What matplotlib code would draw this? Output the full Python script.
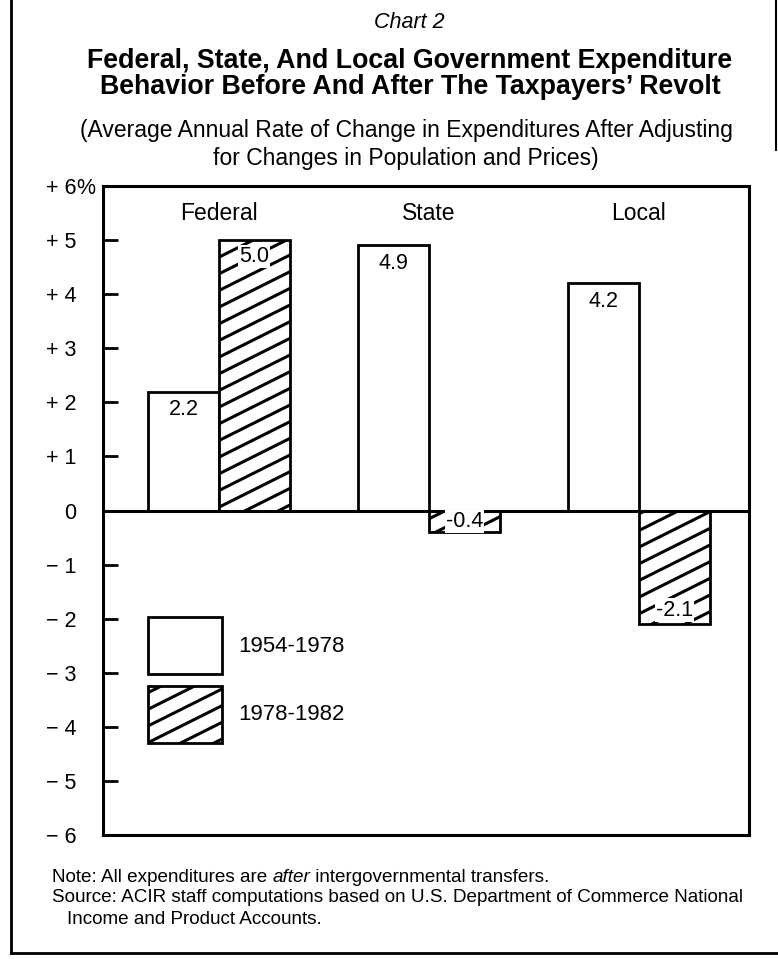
import matplotlib
matplotlib.use("Agg")
import numpy as np
import matplotlib.pyplot as plt
import matplotlib.hatch as mhatch
from matplotlib.path import Path
from matplotlib.patches import Patch
from matplotlib.lines import Line2D

plt.rcParams['font.family'] = ['Liberation Sans', 'DejaVu Sans']
plt.rcParams['hatch.linewidth'] = 2.2


# shallower "/" hatch (slope 1/2), like the printed original
class ShallowNorthEastHatch(mhatch.HatchPatternBase):
    def __init__(self, hatch, density):
        m = int((hatch.count('/') + hatch.count('x') + hatch.count('X')) * density)
        self.m = m
        if m:
            self.cs = np.arange(-(m // 2) - 1, m + 2) / m
            self.num_vertices = 2 * len(self.cs)
        else:
            self.cs = np.array([])
            self.num_vertices = 0

    def set_vertices_and_codes(self, vertices, codes):
        cs = self.cs
        vertices[0::2, 0] = -0.2
        vertices[0::2, 1] = cs - 0.1
        vertices[1::2, 0] = 1.2
        vertices[1::2, 1] = cs + 0.6
        codes[0::2] = Path.MOVETO
        codes[1::2] = Path.LINETO


_i = mhatch._hatch_types.index(mhatch.NorthEastHatch)
mhatch._hatch_types[_i] = ShallowNorthEastHatch

categories = ["Federal", "State", "Local"]
series_names = ["1954-1978", "1978-1982"]
values_early = [2.2, 4.9, 4.2]
values_late = [5.0, -0.4, -2.1]
label_early = ["2.2", "4.9", "4.2"]
label_late = ["5.0", "-0.4", "-2.1"]
yticks = [6, 5, 4, 3, 2, 1, 0, -1, -2, -3, -4, -5, -6]
yticklabels = ["+ 6", "+ 5", "+ 4", "+ 3", "+ 2", "+ 1", "0",
               "\u2212 1", "\u2212 2", "\u2212 3", "\u2212 4", "\u2212 5", "\u2212 6"]

W, H = 778, 959
fig = plt.figure(figsize=(W / 100, H / 100), dpi=100)


def fx(px):
    return px / W


def fy(py):
    return 1 - py / H


ax_l, ax_r, ax_t, ax_b = 103, 749, 186, 835
ax = fig.add_axes([fx(ax_l), fy(ax_b), fx(ax_r - ax_l), (ax_b - ax_t) / H])

x = list(range(len(categories)))
w = 0.338
xe = [i - w / 2 for i in x]
xl = [i + w / 2 for i in x]
ax.bar(xe, values_early, width=w, color="white", edgecolor="black", linewidth=2.0, zorder=2)
ax.bar(xl, values_late, width=w, color="white", edgecolor="black", linewidth=2.0,
       hatch="/", zorder=2)
ax.axhline(0, color="black", linewidth=2.2, zorder=3)

ax.set_xlim(-0.552, 2.524)
ax.set_ylim(-6, 6)
ax.set_xticks([])
ax.set_yticks(yticks)
ax.set_yticklabels(yticklabels, fontsize=15.5)
ax.tick_params(axis="y", direction="in", length=11, width=2.0, pad=19.4)
for s in ax.spines.values():
    s.set_linewidth(2.2)

# "%" after +6
ax.annotate("%", xy=(0, 6), xycoords=("axes fraction", "data"),
            xytext=(-27, 0), textcoords="offset pixels", ha="left", va="center_baseline",
            fontsize=15.5)

# category labels
for i, c in zip(x, categories):
    ax.annotate(c, xy=(i, 0.958), xycoords=("data", "axes fraction"),
                ha="center", va="center", fontsize=16.5)

# value labels
for xi, v, t in zip(xe, values_early, label_early):
    ax.annotate(t, xy=(xi, v), xytext=(0, -18), textcoords="offset pixels",
                ha="center", va="center", fontsize=15.5, zorder=4)
for xi, v, t in zip(xl, values_late, label_late):
    if v > 0:
        xy, off = (xi, v), -16
    elif v > -1:
        xy, off = (xi, v / 2), 0
    else:
        xy, off = (xi, v), 14
    ax.annotate(t, xy=xy, xytext=(0, off), textcoords="offset pixels",
                ha="center", va="center", fontsize=15.5, zorder=4,
                bbox=dict(boxstyle="square,pad=0.05", facecolor="white", edgecolor="none"))

# legend
handles = [Patch(facecolor="white", edgecolor="black", linewidth=2.0),
           Patch(facecolor="white", edgecolor="black", linewidth=2.0, hatch="/")]
leg = ax.legend(handles, series_names, loc="upper left",
                bbox_to_anchor=(fx(148), fy(617)), bbox_transform=fig.transFigure,
                frameon=False, fontsize=16, handlelength=3.33, handleheight=3.56,
                labelspacing=0.54, handletextpad=0.75, borderpad=0, borderaxespad=0)

# titles
fig.text(fx(409), fy(22), "Chart 2", ha="center", va="center", fontsize=15.5, style="italic")
fig.text(fx(410), fy(61), "Federal, State, And Local Government Expenditure",
         ha="center", va="center", fontsize=19.3, fontweight="bold")
fig.text(fx(410), fy(87), "Behavior Before And After The Taxpayers\u2019 Revolt",
         ha="center", va="center", fontsize=19.3, fontweight="bold")
fig.text(fx(406), fy(131), "(Average Annual Rate of Change in Expenditures After Adjusting",
         ha="center", va="center", fontsize=16.5)
fig.text(fx(406), fy(159), "for Changes in Population and Prices)",
         ha="center", va="center", fontsize=16.5)

# footnotes
fs_note = 13.6
fig.canvas.draw()
r = fig.canvas.get_renderer()
xpos = 52
ny = 877
for txt, st in [("Note: All expenditures are ", "normal"), ("after", "italic"),
                (" intergovernmental transfers.", "normal")]:
    t = fig.text(fx(xpos), fy(ny), txt, ha="left", va="center", fontsize=fs_note, style=st)
    bb = t.get_window_extent(renderer=r)
    xpos += bb.width
fig.text(fx(52), fy(898), "Source: ACIR staff computations based on U.S. Department of Commerce National",
         ha="left", va="center", fontsize=fs_note)
fig.text(fx(67), fy(919), "Income and Product Accounts.", ha="left", va="center", fontsize=fs_note)

# page frame lines
fig.add_artist(Line2D([fx(11), fx(11)], [fy(0), fy(953)], color="black", linewidth=2.0))
fig.add_artist(Line2D([fx(11), fx(778)], [fy(953), fy(953)], color="black", linewidth=2.0))
fig.add_artist(Line2D([fx(776), fx(776)], [fy(0), fy(150)], color="black", linewidth=1.5))

fig.savefig("out.png", dpi=100)
